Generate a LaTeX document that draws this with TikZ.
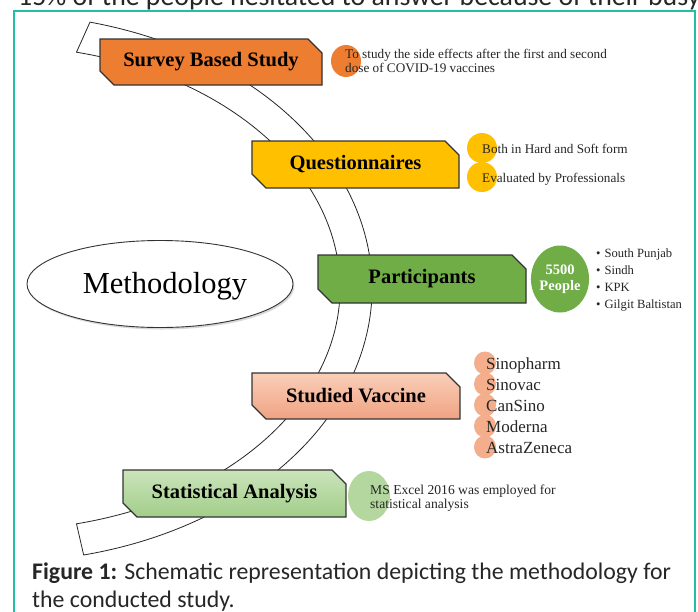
\documentclass[tikz,border=0pt]{standalone}
\usepackage{fontspec}
\setmainfont{Liberation Serif}
\newfontfamily\capfont{Carlito}
\usetikzlibrary{shapes.misc,shapes.geometric,shadows,calc}
\definecolor{frameteal}{HTML}{22BFA6}
\definecolor{surveyor}{HTML}{ED7D31}
\definecolor{questyel}{HTML}{FFC000}
\definecolor{partgreen}{HTML}{70AD47}
\definecolor{vactop}{HTML}{F9CFB8}
\definecolor{vacbot}{HTML}{F0A283}
\definecolor{stattop}{HTML}{CBE4BB}
\definecolor{statbot}{HTML}{A2CE8A}
\definecolor{vacdot}{HTML}{F4AE8C}
\definecolor{statdot}{HTML}{B3D79E}
\definecolor{txtgray}{HTML}{262626}
\begin{document}
\begin{tikzpicture}[x=1pt,y=1pt,
  cbox/.style={chamfered rectangle, chamfered rectangle corners={north east,south west},
    chamfered rectangle xsep=7pt, chamfered rectangle ysep=7pt,
    draw=black!80, line width=1.1pt, inner sep=0pt, outer sep=0pt,
    font=\fontsize{20.5}{24}\selectfont\bfseries, text=black},
  dot/.style={ellipse, inner sep=0pt, outer sep=0pt, draw=none},
  small/.style={font=\fontsize{13.2}{15}\selectfont, text=txtgray, inner sep=0pt, anchor=base west},
  vac/.style={font=\fontsize{17}{19}\selectfont, text=txtgray, inner sep=0pt, anchor=base west},
  bul/.style={font=\fontsize{12.6}{15}\selectfont, text=txtgray, inner sep=0pt, anchor=base west},
  capt/.style={font=\capfont\fontsize{23.8}{28}\selectfont, text=black!85, inner sep=0pt, anchor=base west},
  bandline/.style={draw=black!85, line width=0.8pt, fill=white}]
\clip (0,0) rectangle (698,-611);
\fill[white] (0,0) rectangle (698,-611);
% top clipped text line
\node[capt, font=\capfont\fontsize{27.8}{32}\selectfont] (toptext) at (18,-5) {15\% of the people hesitated to answer because of their busy};
% frame
\draw[frameteal, line width=1.6pt] (14,-11) rectangle (695,-650);
% curved band
\coordinate (O) at (0,-288);
\coordinate (oT) at ($(O)+(76:372 and 274)$);
\coordinate (iB) at ($(O)+(-77:340 and 242)$);
\draw[bandline] (oT) arc[start angle=76, end angle=-77, x radius=372, y radius=274]
  -- (iB) arc[start angle=-77, end angle=77, x radius=340, y radius=242] -- cycle;
% methodology ellipse
\node[ellipse, draw=black!80, line width=0.9pt, fill=white, minimum width=266pt, minimum height=87pt,
  drop shadow={shadow xshift=1.5pt, shadow yshift=-2pt, opacity=0.3, fill=black!50}] (meth) at (160,-284) {};
\node[font=\fontsize{30.5}{34}\selectfont, text=black, inner sep=0pt, anchor=base] (methtxt) at (165,-293) {Methodology};
% boxes
\node[cbox, fill=surveyor, minimum width=222pt, minimum height=46pt] (survey) at (211,-62) {Survey Based Study};
\node[cbox, fill=questyel, minimum width=207pt, minimum height=47pt] (quest) at (355.5,-164.5) {Questionnaires};
\node[cbox, fill=partgreen, minimum width=208pt, minimum height=48pt] (part) at (422,-279) {Participants};
\node[cbox, top color=vactop, bottom color=vacbot, minimum width=208pt, minimum height=46pt] (vacc) at (356,-396) {Studied Vaccine};
\node[cbox, top color=stattop, bottom color=statbot, minimum width=223pt, minimum height=47pt] (stat) at (234.5,-493.5) {Statistical Analysis};
% survey note
\node[dot, fill=surveyor, minimum width=30pt, minimum height=32pt] (sdot) at (346,-61) {};
\node[small] (s1) at (345,-58) {To study the side effects after the first and second};
\node[small] (s2) at (345,-72) {dose of COVID-19 vaccines};
% questionnaire notes
\node[dot, fill=questyel, minimum width=30pt, minimum height=30pt] (qdot1) at (482,-148) {};
\node[dot, fill=questyel, minimum width=30pt, minimum height=30pt] (qdot2) at (482,-177) {};
\node[small] (q1) at (482,-153) {Both in Hard and Soft form};
\node[small] (q2) at (482,-182) {Evaluated by Professionals};
% participants
\node[dot, fill=partgreen, minimum width=58pt, minimum height=67pt, text=white,
  font=\fontsize{14.5}{16.5}\selectfont\bfseries, align=center] (people) at (560,-279) {5500\\People};
\node[bul] (p1) at (596,-257) {\textbullet\hspace{4pt}South Punjab};
\node[bul] (p2) at (596,-274.5) {\textbullet\hspace{4pt}Sindh};
\node[bul] (p3) at (596,-291) {\textbullet\hspace{4pt}KPK};
\node[bul] (p4) at (596,-308) {\textbullet\hspace{4pt}Gilgit Baltistan};
% vaccines
\foreach \i/\yy in {1/363,2/384,3/405,4/426,5/447}{
  \node[dot, fill=vacdot, minimum width=22pt, minimum height=23pt] (vd\i) at (485,-\yy) {};
}
\node[vac] (v1) at (486,-369) {Sinopharm};
\node[vac] (v2) at (486,-390) {Sinovac};
\node[vac] (v3) at (486,-411) {CanSino};
\node[vac] (v4) at (486,-432) {Moderna};
\node[vac] (v5) at (486,-453) {AstraZeneca};
% statistical note
\node[dot, fill=statdot, minimum width=42pt, minimum height=50pt] (mdot) at (369,-496) {};
\node[small, font=\fontsize{13.6}{15}\selectfont] (m1) at (370,-494) {MS Excel 2016 was employed for};
\node[small, font=\fontsize{13.6}{15}\selectfont] (m2) at (370,-508) {statistical analysis};
% caption
\node[capt] (cap1) at (32,-579) {\textbf{Figure 1:} Schematic representation depicting the methodology for};
\node[capt] (cap2) at (32,-607) {the conducted study.};
\end{tikzpicture}
\end{document}
